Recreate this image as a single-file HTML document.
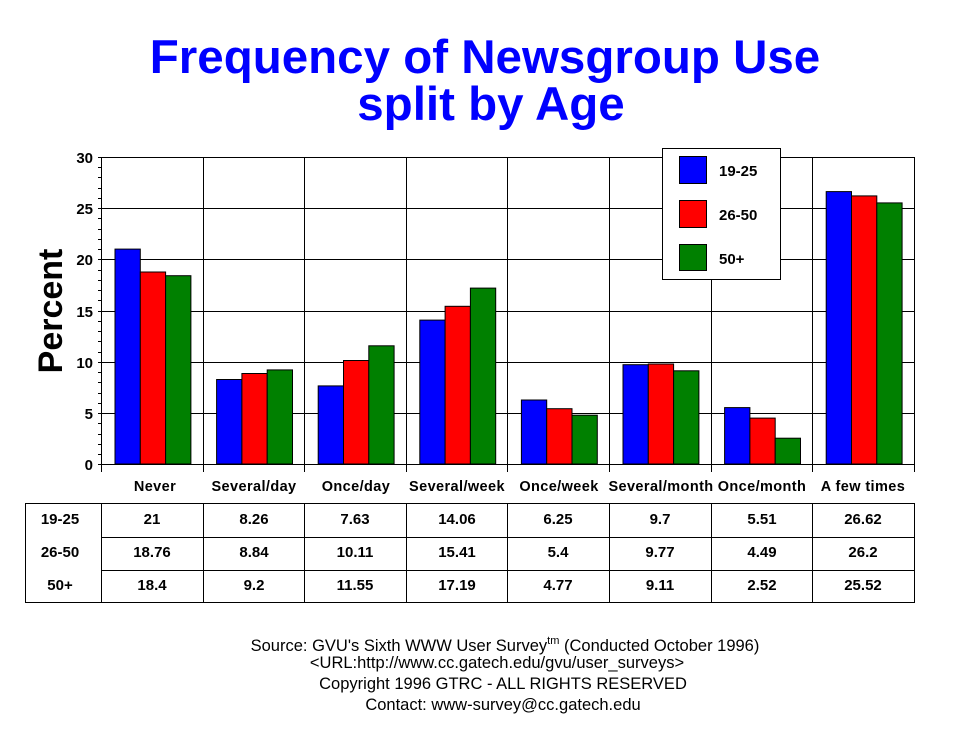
<!DOCTYPE html>
<html><head><meta charset="utf-8"><style>
html,body{margin:0;padding:0;background:#fff;}
svg{display:block;font-family:"Liberation Sans",Arial,sans-serif;}
</style></head><body>
<svg width="970" height="736" viewBox="0 0 970 736" xmlns="http://www.w3.org/2000/svg">
<rect width="970" height="736" fill="#fff"/>
<text x="485" y="73" text-anchor="middle" font-size="47.5" font-weight="bold" fill="#0000ff">Frequency of Newsgroup Use</text>
<text x="491" y="120" text-anchor="middle" font-size="47.5" font-weight="bold" fill="#0000ff">split by Age</text>

<g stroke="#000" stroke-width="1" fill="none">
<line x1="101" y1="157.5" x2="914" y2="157.5"/>
<line x1="101" y1="208.5" x2="914" y2="208.5"/>
<line x1="101" y1="259.5" x2="914" y2="259.5"/>
<line x1="101" y1="311.5" x2="914" y2="311.5"/>
<line x1="101" y1="362.5" x2="914" y2="362.5"/>
<line x1="101" y1="413.5" x2="914" y2="413.5"/>
<line x1="98" y1="464.5" x2="914" y2="464.5"/>
<line x1="101.5" y1="157" x2="101.5" y2="472"/>
<line x1="203.5" y1="157" x2="203.5" y2="472"/>
<line x1="304.5" y1="157" x2="304.5" y2="472"/>
<line x1="406.5" y1="157" x2="406.5" y2="472"/>
<line x1="507.5" y1="157" x2="507.5" y2="472"/>
<line x1="609.5" y1="157" x2="609.5" y2="472"/>
<line x1="711.5" y1="157" x2="711.5" y2="472"/>
<line x1="812.5" y1="157" x2="812.5" y2="472"/>
<line x1="914.5" y1="157" x2="914.5" y2="472"/>
<path d="M98 157.5H101M98 167.5H101M98 177.5H101M98 188.5H101M98 198.5H101M98 208.5H101M98 218.5H101M98 229.5H101M98 239.5H101M98 249.5H101M98 259.5H101M98 270.5H101M98 280.5H101M98 290.5H101M98 300.5H101M98 311.5H101M98 321.5H101M98 331.5H101M98 341.5H101M98 352.5H101M98 362.5H101M98 372.5H101M98 382.5H101M98 393.5H101M98 403.5H101M98 413.5H101M98 423.5H101M98 434.5H101M98 444.5H101M98 454.5H101"/>
</g>
<g font-size="15" font-weight="bold" text-anchor="end" fill="#000">
<text x="93" y="163">30</text><text x="93" y="214">25</text><text x="93" y="265">20</text>
<text x="93" y="317">15</text><text x="93" y="368">10</text><text x="93" y="419">5</text><text x="93" y="470">0</text>
</g>
<text transform="translate(62,311) rotate(-90)" text-anchor="middle" font-size="34" font-weight="bold">Percent</text>

<g stroke="#000" stroke-width="1">
<g transform="translate(101,0)">
<rect x="14" y="249.1" width="25.3" height="214.9" fill="#0000ff"/><rect x="39.3" y="272" width="25.3" height="192" fill="#ff0000"/><rect x="64.6" y="275.7" width="25.3" height="188.3" fill="#008000"/></g>
<g transform="translate(202.6,0)">
<rect x="14" y="379.5" width="25.3" height="84.5" fill="#0000ff"/><rect x="39.3" y="373.5" width="25.3" height="90.5" fill="#ff0000"/><rect x="64.6" y="369.9" width="25.3" height="94.1" fill="#008000"/></g>
<g transform="translate(304.2,0)">
<rect x="14" y="385.9" width="25.3" height="78.1" fill="#0000ff"/><rect x="39.3" y="360.5" width="25.3" height="103.5" fill="#ff0000"/><rect x="64.6" y="345.8" width="25.3" height="118.2" fill="#008000"/></g>
<g transform="translate(405.8,0)">
<rect x="14" y="320.1" width="25.3" height="143.9" fill="#0000ff"/><rect x="39.3" y="306.3" width="25.3" height="157.7" fill="#ff0000"/><rect x="64.6" y="288.1" width="25.3" height="175.9" fill="#008000"/></g>
<g transform="translate(507.4,0)">
<rect x="14" y="400" width="25.3" height="64" fill="#0000ff"/><rect x="39.3" y="408.7" width="25.3" height="55.3" fill="#ff0000"/><rect x="64.6" y="415.2" width="25.3" height="48.8" fill="#008000"/></g>
<g transform="translate(609,0)">
<rect x="14" y="364.7" width="25.3" height="99.3" fill="#0000ff"/><rect x="39.3" y="364" width="25.3" height="100" fill="#ff0000"/><rect x="64.6" y="370.8" width="25.3" height="93.2" fill="#008000"/></g>
<g transform="translate(710.6,0)">
<rect x="14" y="407.6" width="25.3" height="56.4" fill="#0000ff"/><rect x="39.3" y="418.1" width="25.3" height="45.9" fill="#ff0000"/><rect x="64.6" y="438.2" width="25.3" height="25.8" fill="#008000"/></g>
<g transform="translate(812.2,0)">
<rect x="14" y="191.6" width="25.3" height="272.4" fill="#0000ff"/><rect x="39.3" y="195.9" width="25.3" height="268.1" fill="#ff0000"/><rect x="64.6" y="202.9" width="25.3" height="261.1" fill="#008000"/></g>
</g>

<g>
<rect x="662.5" y="148.5" width="118" height="131" fill="#fff" stroke="#000"/>
<rect x="679.5" y="156.5" width="27" height="27" fill="#0000ff" stroke="#000"/>
<rect x="679.5" y="200.5" width="27" height="27" fill="#ff0000" stroke="#000"/>
<rect x="679.5" y="244.5" width="27" height="26" fill="#008000" stroke="#000"/>
<g font-size="15" font-weight="bold"><text x="719" y="176">19-25</text><text x="719" y="220">26-50</text><text x="719" y="264">50+</text></g>
</g>

<g font-size="14.5" font-weight="bold" text-anchor="middle" letter-spacing="0.4">
<text x="155" y="491">Never</text><text x="254" y="491">Several/day</text><text x="356" y="491">Once/day</text>
<text x="457" y="491">Several/week</text><text x="559" y="491">Once/week</text><text x="661" y="491">Several/month</text>
<text x="762" y="491">Once/month</text><text x="863" y="491">A few times</text>
</g>

<g stroke="#000" fill="none">
<rect x="25.5" y="503.5" width="889" height="99"/>
<line x1="101.5" y1="537.5" x2="914" y2="537.5"/><line x1="101.5" y1="570.5" x2="914" y2="570.5"/>
<line x1="101.5" y1="503" x2="101.5" y2="602"/><line x1="203.5" y1="503" x2="203.5" y2="602"/>
<line x1="304.5" y1="503" x2="304.5" y2="602"/><line x1="406.5" y1="503" x2="406.5" y2="602"/>
<line x1="507.5" y1="503" x2="507.5" y2="602"/><line x1="609.5" y1="503" x2="609.5" y2="602"/>
<line x1="711.5" y1="503" x2="711.5" y2="602"/><line x1="812.5" y1="503" x2="812.5" y2="602"/>
</g>
<g font-size="15" font-weight="bold" text-anchor="middle">
<text x="60" y="524">19-25</text><text x="60" y="557">26-50</text><text x="60" y="590">50+</text>
<text x="152" y="524">21</text><text x="254" y="524">8.26</text><text x="355" y="524">7.63</text><text x="457" y="524">14.06</text><text x="558" y="524">6.25</text><text x="660" y="524">9.7</text><text x="762" y="524">5.51</text><text x="863" y="524">26.62</text>
<text x="152" y="557">18.76</text><text x="254" y="557">8.84</text><text x="355" y="557">10.11</text><text x="457" y="557">15.41</text><text x="558" y="557">5.4</text><text x="660" y="557">9.77</text><text x="762" y="557">4.49</text><text x="863" y="557">26.2</text>
<text x="152" y="590">18.4</text><text x="254" y="590">9.2</text><text x="355" y="590">11.55</text><text x="457" y="590">17.19</text><text x="558" y="590">4.77</text><text x="660" y="590">9.11</text><text x="762" y="590">2.52</text><text x="863" y="590">25.52</text>
</g>

<g font-size="16.5" text-anchor="middle">
<text x="505" y="651">Source: GVU's Sixth WWW User Survey<tspan font-size="11" dy="-7">tm</tspan><tspan dy="7">  (Conducted October 1996)</tspan></text>
<text x="497" y="668">&lt;URL:http://www.cc.gatech.edu/gvu/user_surveys&gt;</text>
<text x="503" y="689">Copyright 1996 GTRC - ALL RIGHTS RESERVED</text>
<text x="503" y="710">Contact: www-survey@cc.gatech.edu</text>
</g>
</svg>
</body></html>
